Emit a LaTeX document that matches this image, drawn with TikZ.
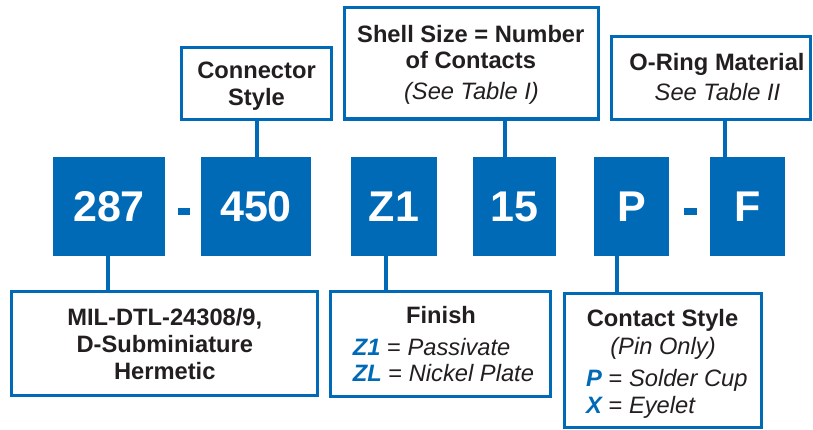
\documentclass[tikz,border=0pt]{standalone}
\usepackage{fontspec}
\setmainfont{Liberation Sans}
\definecolor{gblue}{RGB}{0,106,182}
\definecolor{ink}{RGB}{35,31,32}
\tikzset{
  codebox/.style={fill=gblue, draw=none, inner sep=0pt, text=white,
    font=\fontsize{43}{43}\selectfont\bfseries},
  infobox/.style={draw=gblue, line width=3.4pt, fill=white, inner sep=0pt},
  txt/.style={anchor=base, inner sep=0pt, text=ink, font=\fontsize{23.7}{27}\selectfont},
  txtl/.style={txt, anchor=base west},
  link/.style={draw=gblue, line width=4pt},
  dashbar/.style={fill=gblue, draw=none, inner sep=0pt, minimum width=12.5pt, minimum height=7pt}
}
\newcommand{\bl}[1]{\textcolor{gblue}{\bfseries\itshape #1}}
\begin{document}
\begin{tikzpicture}[x=1pt,y=-1pt]
\useasboundingbox (0,0) rectangle (813,430);
% code boxes
\node[codebox, minimum width=112pt, minimum height=99.5pt] (c287) at (109,206.5) {287};
\node[codebox, minimum width=110pt, minimum height=99.5pt] (c450) at (256,206.5) {450};
\node[codebox, minimum width=86pt, minimum height=99.5pt] (cz1) at (394,206.5) {Z1};
\node[codebox, minimum width=83pt, minimum height=99.5pt] (c15) at (514.5,206.5) {15};
\node[codebox, minimum width=75pt, minimum height=99.5pt] (cp) at (631.7,206.5) {P};
\node[codebox, minimum width=75pt, minimum height=99.5pt] (cf) at (747.5,206.5) {F};
\node[dashbar] (d1) at (184,211.5) {};
\node[dashbar] (d2) at (690.5,211.5) {};
% info boxes (top)
\node[infobox, minimum width=149.6pt, minimum height=71.6pt] (conn) at (256.5,83.5) {};
\node[infobox, minimum width=253.6pt, minimum height=111.6pt] (shell) at (471.5,63.3) {};
\node[infobox, minimum width=198.6pt, minimum height=82.6pt] (oring) at (711,78) {};
% info boxes (bottom)
\node[infobox, minimum width=305.6pt, minimum height=104.1pt] (mil) at (164.5,343.7) {};
\node[infobox, minimum width=219.6pt, minimum height=104.6pt] (fin) at (440.5,344) {};
\node[infobox, minimum width=196.6pt, minimum height=133.6pt] (cont) at (663,360.5) {};
% connectors
\draw[link] (conn.south) -- (conn.south |- c450.north);
\draw[link] ([xshift=-10pt]c15.north) -- ([xshift=-10pt]c15.north |- shell.south);
\draw[link] ([xshift=-22.5pt]cf.north) -- ([xshift=-22.5pt]cf.north |- oring.south);
\draw[link] ([xshift=-0.7pt]c287.south) -- ([xshift=-0.7pt]c287.south |- mil.north);
\draw[link] ([xshift=-8.5pt]cz1.south) -- ([xshift=-8.5pt]cz1.south |- fin.north);
\draw[link] ([xshift=-15pt]cp.south) -- ([xshift=-15pt]cp.south |- cont.north);
% texts top
\node[txt] (t1) at (256.5,79) {\bfseries Connector};
\node[txt] (t2) at (256.5,106) {\bfseries Style};
\node[txt] (t3) at (470.8,42.7) {\bfseries Shell Size = Number};
\node[txt] (t4) at (470.8,68.3) {\bfseries of Contacts};
\node[txt] (t5) at (471.5,100) {\itshape (See Table I)};
\node[txt] (t6) at (717,70.7) {\bfseries O-Ring Material};
\node[txt] (t7) at (717.5,101) {\itshape See Table II};
% texts bottom
\node[txt] (b1) at (164.8,325) {\bfseries MIL-DTL-24308/9,};
\node[txt] (b2) at (164.8,352.7) {\bfseries D-Subminiature};
\node[txt] (b3) at (164.8,379.3) {\bfseries Hermetic};
\node[txt] (f1) at (441,323) {\bfseries Finish};
\node[txtl] (f2) at (352.7,355) {\bl{Z1} = \itshape Passivate};
\node[txtl] (f3) at (352.7,381.7) {\bl{ZL} = \itshape Nickel Plate};
\node[txt] (k1) at (662.5,326.7) {\bfseries Contact Style};
\node[txt] (k2) at (663,354.5) {\itshape (Pin Only)};
\node[txtl] (k3) at (586,386.7) {\bl{P} = \itshape Solder Cup};
\node[txtl] (k4) at (586,413.3) {\bl{X} = \itshape Eyelet};
\end{tikzpicture}
\end{document}
